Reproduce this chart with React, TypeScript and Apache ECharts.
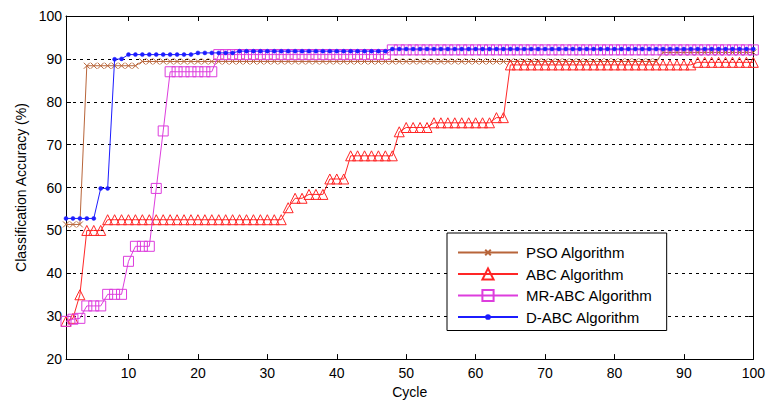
import React, { useEffect, useRef } from "react";
import * as echarts from "echarts";

const xTicks = [10, 20, 30, 40, 50, 60, 70, 80, 90, 100];
const seriesNames = ["PSO Algorithm", "ABC Algorithm", "MR-ABC Algorithm", "D-ABC Algorithm"];

// values per cycle 1..100
const pso = [
  51.4, 51.4, 51.4, 88.4, 88.4, 88.4, 88.4, 88.4, 88.4, 88.4,
  88.4, 89.4, 89.4, 89.4, 89.4, 89.4, 89.4, 89.4, 89.4, 89.4,
  89.4, 89.4, 89.4, 89.4, 89.4, 89.4, 89.4, 89.4, 89.4, 89.4,
  89.4, 89.4, 89.4, 89.4, 89.4, 89.4, 89.4, 89.4, 89.4, 89.4,
  89.4, 89.4, 89.4, 89.4, 89.4, 89.4, 89.4, 89.4, 89.4, 89.4,
  89.4, 89.4, 89.4, 89.4, 89.4, 89.4, 89.4, 89.4, 89.4, 89.4,
  89.4, 89.4, 89.4, 89.4, 89.4, 89.4, 89.4, 89.4, 89.4, 89.4,
  89.4, 89.4, 89.4, 89.4, 89.4, 89.4, 89.4, 89.4, 89.4, 89.4,
  89.4, 89.4, 89.4, 89.4, 89.4, 89.4, 91.5, 91.5, 91.5, 91.5,
  91.5, 91.5, 91.5, 91.5, 91.5, 91.5, 91.5, 91.5, 91.5, 91.5,
];

const abc = [
  28.8, 29.5, 35.0, 50.0, 50.0, 50.0, 52.5, 52.5, 52.5, 52.5,
  52.5, 52.5, 52.5, 52.5, 52.5, 52.5, 52.5, 52.5, 52.5, 52.5,
  52.5, 52.5, 52.5, 52.5, 52.5, 52.5, 52.5, 52.5, 52.5, 52.5,
  52.5, 52.5, 55.3, 57.5, 57.5, 58.4, 58.4, 58.4, 62.0, 62.0,
  62.0, 67.4, 67.4, 67.4, 67.4, 67.4, 67.4, 67.4, 73.0, 74.0,
  74.0, 74.0, 74.0, 75.1, 75.1, 75.1, 75.1, 75.1, 75.1, 75.1,
  75.1, 75.1, 76.3, 76.3, 88.6, 88.6, 88.6, 88.6, 88.6, 88.6,
  88.6, 88.6, 88.6, 88.6, 88.6, 88.6, 88.6, 88.6, 88.6, 88.6,
  88.6, 88.6, 88.6, 88.6, 88.6, 88.6, 88.6, 88.6, 88.6, 88.6,
  88.6, 89.2, 89.2, 89.2, 89.2, 89.2, 89.2, 89.2, 89.2, 89.2,
];

const mrAbc = [
  28.8, 29.3, 29.5, 32.4, 32.4, 32.4, 35.1, 35.1, 35.1, 42.8,
  46.3, 46.3, 46.3, 59.8, 73.2, 87.0, 87.0, 87.0, 87.0, 87.0,
  87.0, 87.0, 91.0, 91.0, 91.0, 91.0, 91.0, 91.0, 91.0, 91.0,
  91.0, 91.0, 91.0, 91.0, 91.0, 91.0, 91.0, 91.0, 91.0, 91.0,
  91.0, 91.0, 91.0, 91.0, 91.0, 91.0, 91.0, 92.1, 92.1, 92.1,
  92.1, 92.1, 92.1, 92.1, 92.1, 92.1, 92.1, 92.1, 92.1, 92.1,
  92.1, 92.1, 92.1, 92.1, 92.1, 92.1, 92.1, 92.1, 92.1, 92.1,
  92.1, 92.1, 92.1, 92.1, 92.1, 92.1, 92.1, 92.1, 92.1, 92.1,
  92.1, 92.1, 92.1, 92.1, 92.1, 92.1, 92.1, 92.1, 92.1, 92.1,
  92.1, 92.1, 92.1, 92.1, 92.1, 92.1, 92.1, 92.1, 92.1, 92.1,
];

const dAbc = [
  52.8, 52.8, 52.8, 52.8, 52.8, 59.8, 59.8, 89.9, 90.0, 91.0,
  91.0, 91.0, 91.0, 91.0, 91.0, 91.0, 91.0, 91.0, 91.0, 91.4,
  91.4, 91.4, 91.4, 91.4, 91.4, 91.8, 91.8, 91.8, 91.8, 91.8,
  91.8, 91.8, 91.8, 91.8, 91.8, 91.8, 91.8, 91.8, 91.8, 91.8,
  91.8, 91.8, 91.8, 91.8, 91.8, 91.8, 91.8, 92.3, 92.3, 92.3,
  92.3, 92.3, 92.3, 92.3, 92.3, 92.3, 92.3, 92.3, 92.3, 92.3,
  92.3, 92.3, 92.3, 92.3, 92.3, 92.3, 92.3, 92.3, 92.3, 92.3,
  92.3, 92.3, 92.3, 92.3, 92.3, 92.3, 92.3, 92.3, 92.3, 92.3,
  92.3, 92.3, 92.3, 92.3, 92.3, 92.3, 92.3, 92.3, 92.3, 92.3,
  92.3, 92.3, 92.3, 92.3, 92.3, 92.3, 92.3, 92.3, 92.3, 92.3,
];

const colors = ["#b8653a", "#ff2626", "#dd3ddd", "#1c1cff"];

const FONT = "'Liberation Sans', Arial, sans-serif";

const toXY = (arr: number[]) => arr.map((v, i) => [i + 1, v]);

export default function App() {
  const ref = useRef<HTMLDivElement>(null);
  useEffect(() => {
    if (!ref.current) return;
    const chart = echarts.init(ref.current, undefined, { renderer: "svg" });
    const valuesList = [pso, abc, mrAbc, dAbc];
    // padded path symbols so the marker occupies only part of its box
    const symbols = [
      "path://M0,0M12,12M3,3L9,9M9,3L3,9",
      "triangle",
      "rect",
      "path://M0,0M12,12M6,4A2,2 0 1 1 6,8A2,2 0 1 1 6,4Z",
    ];
    const sizes = [12, 10, 10, 12];
    const series = valuesList.map((vals, k) => ({
      name: seriesNames[k],
      type: "line",
      data: toXY(vals),
      symbol: symbols[k],
      symbolSize: sizes[k],
      showSymbol: true,
      lineStyle: { color: colors[k], width: 1 },
      itemStyle:
        k === 3
          ? { color: colors[k], borderColor: colors[k], borderWidth: 0.5 }
          : { color: "rgba(0,0,0,0)", borderColor: colors[k], borderWidth: 1 },
      emphasis: { disabled: true },
      z: 2 + k,
    }));
    chart.setOption({
      animation: false,
      backgroundColor: "#ffffff",
      textStyle: { fontFamily: FONT },
      grid: { left: 66, right: 11, top: 16, bottom: 43, show: false },
      legend: {
        data: seriesNames,
        orient: "vertical",
        left: 447,
        top: 233,
        padding: [12, 14, 6, 10],
        itemWidth: 60,
        itemHeight: 14,
        itemGap: 6.5,
        backgroundColor: "#ffffff",
        borderColor: "#000000",
        borderWidth: 1,
        textStyle: { fontFamily: FONT, fontSize: 15, color: "#000", padding: [0, 0, 0, 3] },
        selectedMode: false,
        z: 20,
      },
      xAxis: [
        {
          type: "value",
          min: 1,
          max: 100,
          position: "bottom",
          name: "Cycle",
          nameLocation: "middle",
          nameGap: 25,
          nameTextStyle: { fontFamily: FONT, fontSize: 14, color: "#000" },
          axisLine: { show: true, lineStyle: { color: "#000", width: 1 } },
          axisTick: { show: true, inside: true, length: 5, customValues: xTicks, lineStyle: { color: "#000" } },
          axisLabel: { show: true, customValues: xTicks, margin: 7, fontFamily: FONT, fontSize: 14, color: "#000" },
          splitLine: { show: false },
        },
        {
          type: "value",
          min: 1,
          max: 100,
          position: "top",
          axisLine: { show: true, onZero: false, lineStyle: { color: "#000", width: 1 } },
          axisTick: { show: true, inside: true, length: 5, customValues: xTicks, lineStyle: { color: "#000" } },
          axisLabel: { show: false },
          splitLine: { show: false },
        },
      ],
      yAxis: [
        {
          type: "value",
          min: 20,
          max: 100,
          interval: 10,
          position: "left",
          name: "Classification Accuracy (%)",
          nameLocation: "middle",
          nameGap: 33,
          nameTextStyle: { fontFamily: FONT, fontSize: 14, color: "#000" },
          axisLine: { show: true, onZero: false, lineStyle: { color: "#000", width: 1 } },
          axisTick: { show: true, inside: true, length: 5, lineStyle: { color: "#000" } },
          axisLabel: { show: true, margin: 4, fontFamily: FONT, fontSize: 14, color: "#000" },
          splitLine: { show: true, lineStyle: { color: "#000", type: [3, 4], width: 1 } },
        },
        {
          type: "value",
          min: 20,
          max: 100,
          interval: 10,
          position: "right",
          axisLine: { show: true, onZero: false, lineStyle: { color: "#000", width: 1 } },
          axisTick: { show: true, inside: true, length: 5, lineStyle: { color: "#000" } },
          axisLabel: { show: false },
          splitLine: { show: false },
        },
      ],
      series,
    });
    return () => chart.dispose();
  }, []);
  return <div ref={ref} style={{ width: 768, height: 404, position: "absolute", left: 0, top: 0 }} />;
}
